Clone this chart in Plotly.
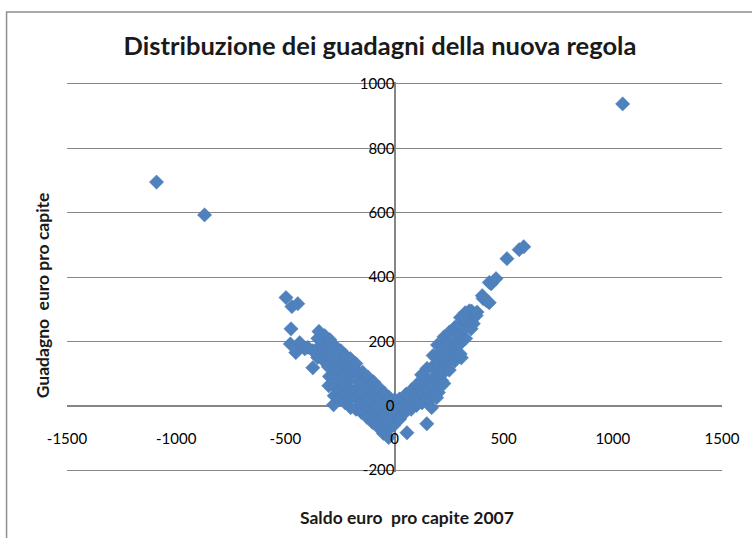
import plotly.graph_objects as go

# ---- data ----
outlier_saldo = [-1090, -870, 1045, -497, -470, -443, -474, -477, -434, -452, -411, -397, -374, -374]
outlier_guadagno = [695, 593, 938, 336, 308, 317, 239, 192, 196, 165, 177, 181, 171, 118]

left_saldo = [
    -352, -348, -351, -346,
    -326, -322, -327, -320,
    -301, -298, -303, -297, -300, -296,
    -279, -276, -273, -277, -272, -278, -274,
    -251, -248, -253, -247, -250, -246,
    -226, -222, -228, -224, -221, -227,
    -201, -198, -203, -199, -196, -202,
    -176, -172, -178, -174, -171, -177,
    -151, -148, -153, -149, -146,
    -126, -122, -128, -124, -121,
    -101, -98, -103, -99, -96,
    -76, -73, -78, -74, -71,
    -51, -48, -53, -49, -46,
    -27, -24, -28, -22, -25,
    -3, 2, -5, 1,
]
left_guadagno = [
    150, 181, 209, 231,
    141, 172, 199, 218,
    62, 91, 121, 152, 178, 205,
    3, 31, 58, 92, 119, 148, 186,
    21, 52, 79, 111, 138, 171,
    9, 41, 68, 101, 129, 158,
    -6, 26, 53, 86, 114, 146,
    -11, 21, 49, 81, 108, 131,
    -21, 11, 38, 71, 104,
    -36, -4, 24, 56, 89,
    -52, -19, 9, 41, 74,
    -66, -36, -4, 26, 56,
    -86, -54, -26, 6, 39,
    -99, -71, -41, -9, 26,
    -61, -29, 1, 19,
]

right_saldo = [
    24, 27, 23,
    57, 51, 48, 53,
    76, 73, 78,
    101, 98, 103,
    126, 123, 128, 124,
    148, 151, 148, 153, 149,
    170, 176, 173, 178, 174, 177,
    193, 201, 198, 203, 199, 202, 197,
    216, 226, 223, 228, 224, 221, 227,
    251, 248, 253, 249, 252,
    276, 273, 278, 274, 277,
    306, 301, 298, 303, 299, 302,
    326, 323, 328, 324,
    351, 348, 353,
    315, 343, 361, 374, 378,
    406, 420, 434, 402, 434, 443, 465,
    515, 571, 592,
]
right_guadagno = [
    -41, -9, 21,
    -84, -19, 11, 36,
    -11, 21, 49,
    1, 31, 66,
    9, 41, 69, 96,
    -56, 21, 51, 79, 116,
    -6, 29, 61, 89, 121, 156,
    25, 41, 71, 99, 131, 161, 189,
    78, 69, 101, 129, 159, 191, 214,
    111, 141, 169, 199, 229,
    139, 171, 199, 231, 244,
    149, 161, 191, 219, 251, 274,
    209, 241, 269, 289,
    239, 271, 294,
    271, 295, 255, 280, 291,
    333, 327, 320, 342, 383, 379, 395,
    457, 485, 494,
]

x_ticks = [-1500, -1000, -500, 0, 500, 1000, 1500]
y_ticks = [-200, 0, 200, 400, 600, 800, 1000]

saldo = outlier_saldo + left_saldo + right_saldo
guadagno = outlier_guadagno + left_guadagno + right_guadagno

GRID = "#868686"
FONT = "Lato, Calibri, Carlito, sans-serif"

# layout expressed in window pixels (page body margin removed below)
PL, PR, PT, PB = 67, 728, 82, 472   # plot area in window px
W, H = 752, 538


def px_x(px):
    return (px - PL) / (PR - PL)


def px_y(py):
    return (PB - py) / (PB - PT)


fig = go.Figure(
    go.Scatter(
        x=saldo,
        y=guadagno,
        mode="markers",
        marker=dict(symbol="diamond", size=11, color="#4F81BD",
                    line=dict(width=0.5, color="#4A7EBB")),
        hoverinfo="x+y",
    )
)

fig.update_layout(
    width=W,
    height=H,
    paper_bgcolor="white",
    plot_bgcolor="white",
    margin=dict(l=PL, r=W - PR, t=PT, b=H - PB),
    showlegend=False,
    font=dict(family=FONT, color="#000000"),
    title=dict(
        text="<b>Distribuzione dei guadagni della nuova regola</b>",
        x=380 / W, y=1 - 46 / H, xref="container", yref="container",
        xanchor="center", yanchor="middle",
        font=dict(family=FONT, size=25.5, color="#1a1a1a"),
    ),
    xaxis=dict(
        range=[-1500, 1500],
        tickvals=x_ticks,
        ticktext=[str(v) for v in x_ticks],
        showgrid=False,
        zeroline=True, zerolinecolor=GRID, zerolinewidth=1.5,
        showline=False,
        ticks="",
        anchor="free",
        position=px_y(427.5),
        tickfont=dict(family=FONT, size=15, color="#000000"),
        fixedrange=True,
    ),
    yaxis=dict(
        range=[-206, 1006],
        tickvals=y_ticks,
        ticktext=[str(v) for v in y_ticks],
        showgrid=True, gridcolor=GRID, gridwidth=1,
        zeroline=True, zerolinecolor=GRID, zerolinewidth=1.5,
        showline=False,
        ticks="",
        anchor="free",
        position=0.5,
        tickfont=dict(family=FONT, size=15, color="#000000"),
        fixedrange=True,
    ),
    annotations=[
        dict(text="<b>Guadagno  euro pro capite</b>", textangle=-90,
             x=px_x(42), y=px_y(295), xref="paper", yref="paper",
             xanchor="center", yanchor="middle", showarrow=False,
             font=dict(family=FONT, size=17.5, color="#1a1a1a")),
        dict(text="<b>Saldo euro  pro capite 2007</b>",
             x=px_x(410), y=px_y(517), xref="paper", yref="paper",
             xanchor="center", yanchor="middle", showarrow=False,
             font=dict(family=FONT, size=17.5, color="#1a1a1a")),
    ],
    shapes=[
        dict(type="rect", xref="paper", yref="paper",
             x0=px_x(6), x1=px_x(800), y0=px_y(600), y1=px_y(12),
             line=dict(color="#8f8f8f", width=1.5), fillcolor="rgba(0,0,0,0)",
             layer="above"),
    ],
)

fig.write_html(
    "out.html",
    config={"displayModeBar": False},
    post_script="document.body.style.margin='0';document.body.style.padding='0';",
)
